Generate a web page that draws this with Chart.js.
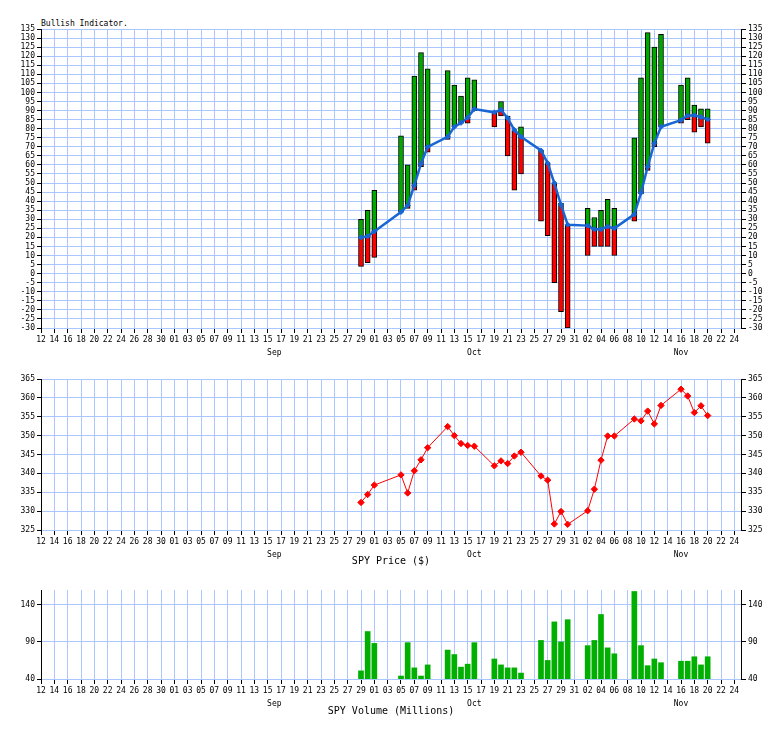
<!DOCTYPE html>
<html>
<head>
<meta charset="utf-8">
<script src="https://cdn.jsdelivr.net/npm/chart.js@4.4.0/dist/chart.umd.min.js"></script>
<style>
body { margin: 0; background: #fff; width: 784px; height: 729px; position: relative; overflow: hidden; }
.box { position: absolute; left: 0; width: 784px; }
.lbl { position: absolute; font-family: "DejaVu Sans Mono", monospace; color: #000; white-space: nowrap; line-height: 12px; }
</style>
</head>
<body>
<div class="lbl" style="left:41px; top:18px; font-size:8px;">Bullish Indicator.</div>
<div class="box" style="top:0; height:363px;"><canvas id="bullChart"></canvas></div>
<div class="box" style="top:363px; height:201px;"><canvas id="priceChart"></canvas></div>
<div class="lbl" style="left:391px; top:555px; font-size:10px; transform:translateX(-50%);">SPY Price ($)</div>
<div class="box" style="top:568px; height:146px;"><canvas id="volChart"></canvas></div>
<div class="lbl" style="left:391px; top:705px; font-size:10px; transform:translateX(-50%);">SPY Volume (Millions)</div>
<script>
// axis range (calendar days)
const axisStart = "2020-08-12";
const axisEnd = "2020-11-25";
const dayTickStep = 2;
const monthLabels = ["Sep", "Oct", "Nov"];
const monthTickDates = ["2020-09-16", "2020-10-16", "2020-11-16"];

// trading days
const dates = ["2020-09-29","2020-09-30","2020-10-01","2020-10-05","2020-10-06","2020-10-07","2020-10-08","2020-10-09",
  "2020-10-12","2020-10-13","2020-10-14","2020-10-15","2020-10-16","2020-10-19","2020-10-20","2020-10-21","2020-10-22",
  "2020-10-23","2020-10-26","2020-10-27","2020-10-28","2020-10-29","2020-10-30","2020-11-02","2020-11-03","2020-11-04",
  "2020-11-05","2020-11-06","2020-11-09","2020-11-10","2020-11-11","2020-11-12","2020-11-13","2020-11-16","2020-11-17",
  "2020-11-18","2020-11-19","2020-11-20"];

// Bullish indicator: daily range and its average line
const bullHigh = [30, 35, 46, 76, 60, 109, 122, 113, 112, 104, 98, 108, 107, 89, 95, 87, 79, 81, 68, 61, 50, 39, 27,
  36, 31, 35, 41, 36, 75, 108, 133, 125, 132, 104, 108, 93, 91, 91];
const bullLow = [4, 6, 9, 34, 36, 46, 59, 67, 74, 81, 83, 83, 90, 81, 87, 65, 46, 55, 29, 21, -5, -21, -30,
  10, 15, 15, 15, 10, 29, 44, 57, 70, 81, 83, 85, 78, 81, 72];
const bullAvg = [20, 20.6, 23.3, 34, 37.7, 48.7, 60.7, 69.9, 75.5, 81, 83.2, 86.1, 90.8, 89, 90.4, 85.8, 79.3, 75.5,
  68, 61, 50, 38, 27, 26.5, 24.5, 24.5, 26, 25, 32.7, 44.6, 59, 71.8, 81, 84.7, 87.2, 87.4, 86.4, 85.1];

// SPY close price
const spyPrice = [332.3, 334.4, 336.9, 339.6, 334.8, 340.7, 343.6, 346.8, 352.4, 350.0, 347.9, 347.4, 347.2, 342.0,
  343.3, 342.6, 344.6, 345.6, 339.3, 338.2, 326.6, 329.9, 326.5, 330.1, 335.8, 343.5, 349.9, 349.9, 354.4, 353.9,
  356.5, 353.1, 358.0, 362.3, 360.5, 356.1, 357.9, 355.3];

// SPY volume (millions)
const spyVolume = [51, 104, 88, 44, 89, 55, 44, 59, 79, 73, 56, 60, 89, 67, 59, 55, 55, 48, 92, 65, 117, 90, 120,
  85, 92, 127, 82, 74, 158, 85, 58, 67, 62, 64, 64, 70, 59, 70];

const volTicks = [40, 90, 140];

const gridColor = "#aac8ff";
const tickFont = { family: '"DejaVu Sans Mono", monospace', size: 8 };

function dayIdx(s) {
  const p = s.split("-").map(Number);
  const a = axisStart.split("-").map(Number);
  return (Date.UTC(p[0], p[1] - 1, p[2]) - Date.UTC(a[0], a[1] - 1, a[2])) / 864e5;
}
const xMax = dayIdx(axisEnd);

function dayLabel(v) {
  const a = axisStart.split("-").map(Number);
  const d = new Date(Date.UTC(a[0], a[1] - 1, a[2]) + v * 864e5);
  return String(d.getUTCDate()).padStart(2, "0");
}

function xScales() {
  const vals = [];
  for (let v = 0; v < xMax; v += dayTickStep) vals.push(v);
  return {
    x: {
      type: "linear", position: "bottom", min: 0, max: xMax, offset: false, weight: 0,
      afterBuildTicks: s => { s.ticks = vals.map(v => ({ value: v })); },
      ticks: { autoSkip: false, maxRotation: 0, font: tickFont, color: "#000", padding: 2, callback: v => dayLabel(v) },
      grid: { color: gridColor, tickColor: "#000", tickLength: 5, offset: false },
      border: { display: false },
      afterFit: s => { s.height = 17; }
    },
    month: {
      type: "linear", position: "bottom", min: 0, max: xMax, offset: false, weight: 1,
      afterBuildTicks: s => { s.ticks = monthTickDates.map(d => ({ value: dayIdx(d) })); },
      ticks: { autoSkip: false, maxRotation: 0, font: tickFont, color: "#000", padding: 3,
        callback: (v, i) => monthLabels[i] },
      grid: { display: false, drawTicks: false },
      border: { display: false },
      afterFit: s => { s.height = 16; }
    }
  };
}

function yScales(min, max, step, fixedTicks) {
  const build = fixedTicks ? (s => { s.ticks = fixedTicks.map(v => ({ value: v })); }) : undefined;
  return {
    y: {
      position: "left", min: min, max: max,
      afterBuildTicks: build,
      ticks: { stepSize: step, autoSkip: false, font: tickFont, color: "#000", padding: 2 },
      grid: { color: gridColor, tickColor: "#000", tickLength: 4 },
      border: { display: true, color: "#000", z: 1 },
      afterFit: s => { s.width = 41; }
    },
    y2: {
      position: "right", min: min, max: max,
      afterBuildTicks: build,
      ticks: { stepSize: step, autoSkip: false, font: tickFont, color: "#000", padding: 2 },
      grid: { drawOnChartArea: false, tickColor: "#000", tickLength: 5 },
      border: { display: true, color: "#000", z: 1 },
      afterFit: s => { s.width = 43; }
    }
  };
}

function baseOptions(pad, scales) {
  return {
    responsive: true,
    maintainAspectRatio: false,
    devicePixelRatio: 1,
    animation: false,
    layout: { padding: pad },
    plugins: { legend: { display: false }, tooltip: { enabled: false } },
    scales: scales
  };
}

// green part above the average, red part below it
const greenPts = [], redPts = [];
dates.forEach((d, i) => {
  const x = dayIdx(d), hi = bullHigh[i], lo = bullLow[i], ma = bullAvg[i];
  if (hi > ma) greenPts.push({ x: x, y: [Math.max(lo, ma), hi] });
  if (lo < ma) redPts.push({ x: x, y: [lo, Math.min(hi, ma)] });
});

new Chart(document.getElementById("bullChart"), {
  data: {
    datasets: [
      { type: "line", data: dates.map((d, i) => ({ x: dayIdx(d), y: bullAvg[i] })), order: 0,
        borderColor: "#1866d4", borderWidth: 2.5, tension: 0,
        pointStyle: "rectRot", pointRadius: 2.5, pointBackgroundColor: "#1866d4", pointBorderColor: "#1866d4", pointBorderWidth: 1 },
      { type: "bar", data: greenPts, order: 1, grouped: false, barThickness: 5,
        backgroundColor: "#00a800", borderColor: "#000", borderWidth: 1, borderSkipped: false },
      { type: "bar", data: redPts, order: 2, grouped: false, barThickness: 5,
        backgroundColor: "#ff0000", borderColor: "#000", borderWidth: 1, borderSkipped: false }
    ]
  },
  options: baseOptions({ top: 29, bottom: 2, left: 0, right: 0 },
    Object.assign(xScales(), yScales(-30, 135, 5)))
});

new Chart(document.getElementById("priceChart"), {
  type: "line",
  data: {
    datasets: [
      { data: dates.map((d, i) => ({ x: dayIdx(d), y: spyPrice[i] })),
        borderColor: "#ff0000", borderWidth: 1, tension: 0,
        pointStyle: "rectRot", pointRadius: 3.2, pointBackgroundColor: "#ff0000", pointBorderColor: "#ff0000", pointBorderWidth: 1 }
    ]
  },
  options: baseOptions({ top: 16, bottom: 1, left: 0, right: 0 },
    Object.assign(xScales(), yScales(325, 365, 5)))
});

new Chart(document.getElementById("volChart"), {
  type: "bar",
  data: {
    datasets: [
      { data: dates.map((d, i) => ({ x: dayIdx(d), y: spyVolume[i] })),
        backgroundColor: "#00b000", borderWidth: 0, barThickness: 5 }
    ]
  },
  options: baseOptions({ top: 22, bottom: 2, left: 0, right: 0 },
    Object.assign(xScales(), yScales(40, 160, 50, volTicks)))
});
</script>
</body>
</html>
